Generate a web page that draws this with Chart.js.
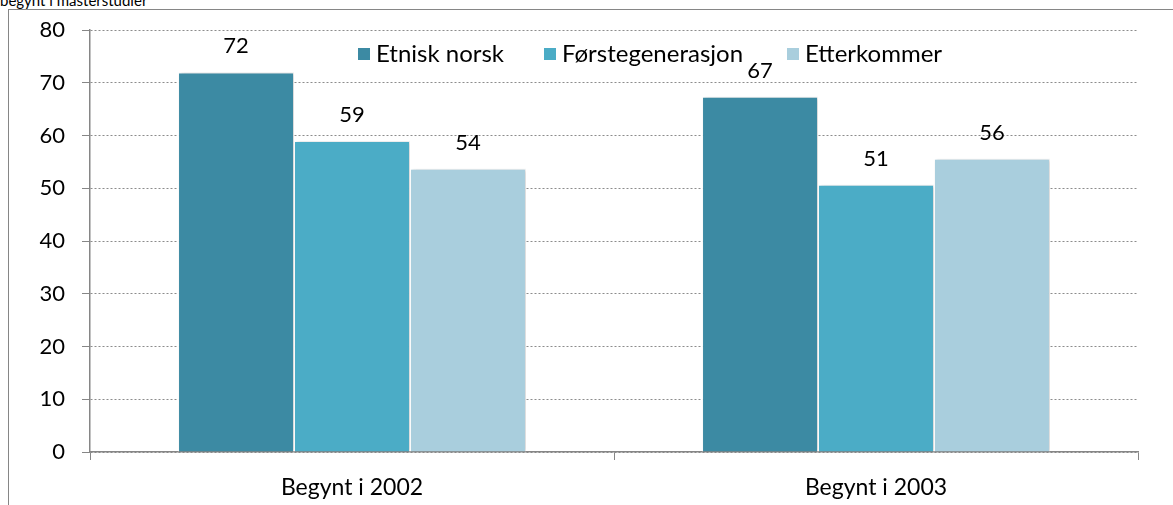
<!DOCTYPE html>
<html>
<head>
<meta charset="utf-8">
<script src="https://cdn.jsdelivr.net/npm/chart.js@4.4.1/dist/chart.umd.min.js"></script>
<style>
  body { margin: 0; background: #fff; overflow: hidden; }
  #wrap { position: relative; width: 1173px; height: 505px; }
  #title { position: absolute; left: 0; top: -9px; font: 15px Lato, sans-serif; color: #000; white-space: nowrap; }
  #frame { position: absolute; left: 8px; top: 9px; width: 1180px; height: 520px; border: 1px solid #868686; pointer-events: none; }
  canvas { position: absolute; left: 0; top: 0; }
</style>
</head>
<body>
<div id="wrap">
  <div id="title">begynt i masterstudier</div>
  <div id="frame"></div>
  <canvas id="chart" width="1173" height="505"></canvas>
</div>
<script>
const categories = ['Begynt i 2002', 'Begynt i 2003'];
const seriesNames = ['Etnisk norsk', 'Førstegenerasjon', 'Etterkommer'];
const etniskNorsk = [72.0, 67.4];
const forstegenerasjon = [59.0, 50.7];
const etterkommer = [53.7, 55.6];
const yTicks = [0, 10, 20, 30, 40, 50, 60, 70, 80];

const colors = ['#3c8aa3', '#4bacc6', '#a9cedd'];
const fontFamily = 'Lato, sans-serif';
const legendX = [358, 544, 787];

// value labels above each bar
const valueLabels = {
  id: 'valueLabels',
  afterDatasetsDraw(chart) {
    const ctx = chart.ctx;
    ctx.save();
    ctx.font = '22px ' + fontFamily;
    ctx.fillStyle = '#000';
    ctx.textAlign = 'center';
    ctx.textBaseline = 'middle';
    chart.data.datasets.forEach((ds, i) => {
      chart.getDatasetMeta(i).data.forEach((bar, j) => {
        ctx.fillText(Math.round(ds.data[j]), bar.x, bar.y - 26);
      });
    });
    ctx.restore();
  }
};

// soft shadow behind bars
const barShadow = {
  id: 'barShadow',
  beforeDatasetsDraw(chart) {
    const ctx = chart.ctx;
    ctx.save();
    ctx.shadowColor = 'rgba(0,0,0,0.18)';
    ctx.shadowBlur = 4;
    ctx.shadowOffsetX = 2;
    ctx.shadowOffsetY = 0;
  },
  afterDatasetsDraw(chart) {
    chart.ctx.restore();
  }
};

// legend sits inside the plot area, top middle
const innerLegend = {
  id: 'innerLegend',
  afterDraw(chart) {
    const ctx = chart.ctx;
    ctx.save();
    ctx.font = '24px ' + fontFamily;
    ctx.textBaseline = 'middle';
    const y = 54;
    chart.data.datasets.forEach((ds, i) => {
      const x = legendX[i];
      ctx.fillStyle = ds.backgroundColor;
      ctx.fillRect(x, y - 6, 12, 12);
      ctx.fillStyle = '#000';
      ctx.fillText(ds.label, x + 18, y);
    });
    ctx.restore();
  }
};

new Chart(document.getElementById('chart').getContext('2d'), {
  type: 'bar',
  data: {
    labels: categories,
    datasets: [
      { label: seriesNames[0], data: etniskNorsk, backgroundColor: colors[0] },
      { label: seriesNames[1], data: forstegenerasjon, backgroundColor: colors[1] },
      { label: seriesNames[2], data: etterkommer, backgroundColor: colors[2] }
    ].map(ds => Object.assign(ds, {
      borderColor: '#ffffff',
      borderWidth: 1,
      borderSkipped: 'bottom',
      categoryPercentage: 0.664,
      barPercentage: 1
    }))
  },
  options: {
    responsive: false,
    animation: false,
    layout: { padding: { top: 29, right: 35, left: 0, bottom: 0 } },
    plugins: {
      legend: { display: false },
      tooltip: { enabled: false }
    },
    scales: {
      x: {
        afterFit(scale) { scale.height = 53; },
        grid: {
          drawOnChartArea: false,
          drawTicks: true,
          tickLength: 8,
          offset: true,
          tickColor: '#868686'
        },
        border: { color: '#868686', width: 1.5 },
        ticks: { color: '#000', font: { size: 23, family: fontFamily }, padding: 14 }
      },
      y: {
        min: 0,
        max: 80,
        afterFit(scale) { scale.width = 90; },
        afterBuildTicks(scale) { scale.ticks = yTicks.map(v => ({ value: v })); },
        grid: {
          color: '#8c8c8c',
          tickColor: '#868686',
          tickLength: 8
        },
        border: { color: '#868686', width: 1.5, dash: [2, 2] },
        ticks: { color: '#000', font: { size: 22, family: fontFamily }, padding: 17 }
      }
    }
  },
  plugins: [barShadow, valueLabels, innerLegend]
});
</script>
</body>
</html>
